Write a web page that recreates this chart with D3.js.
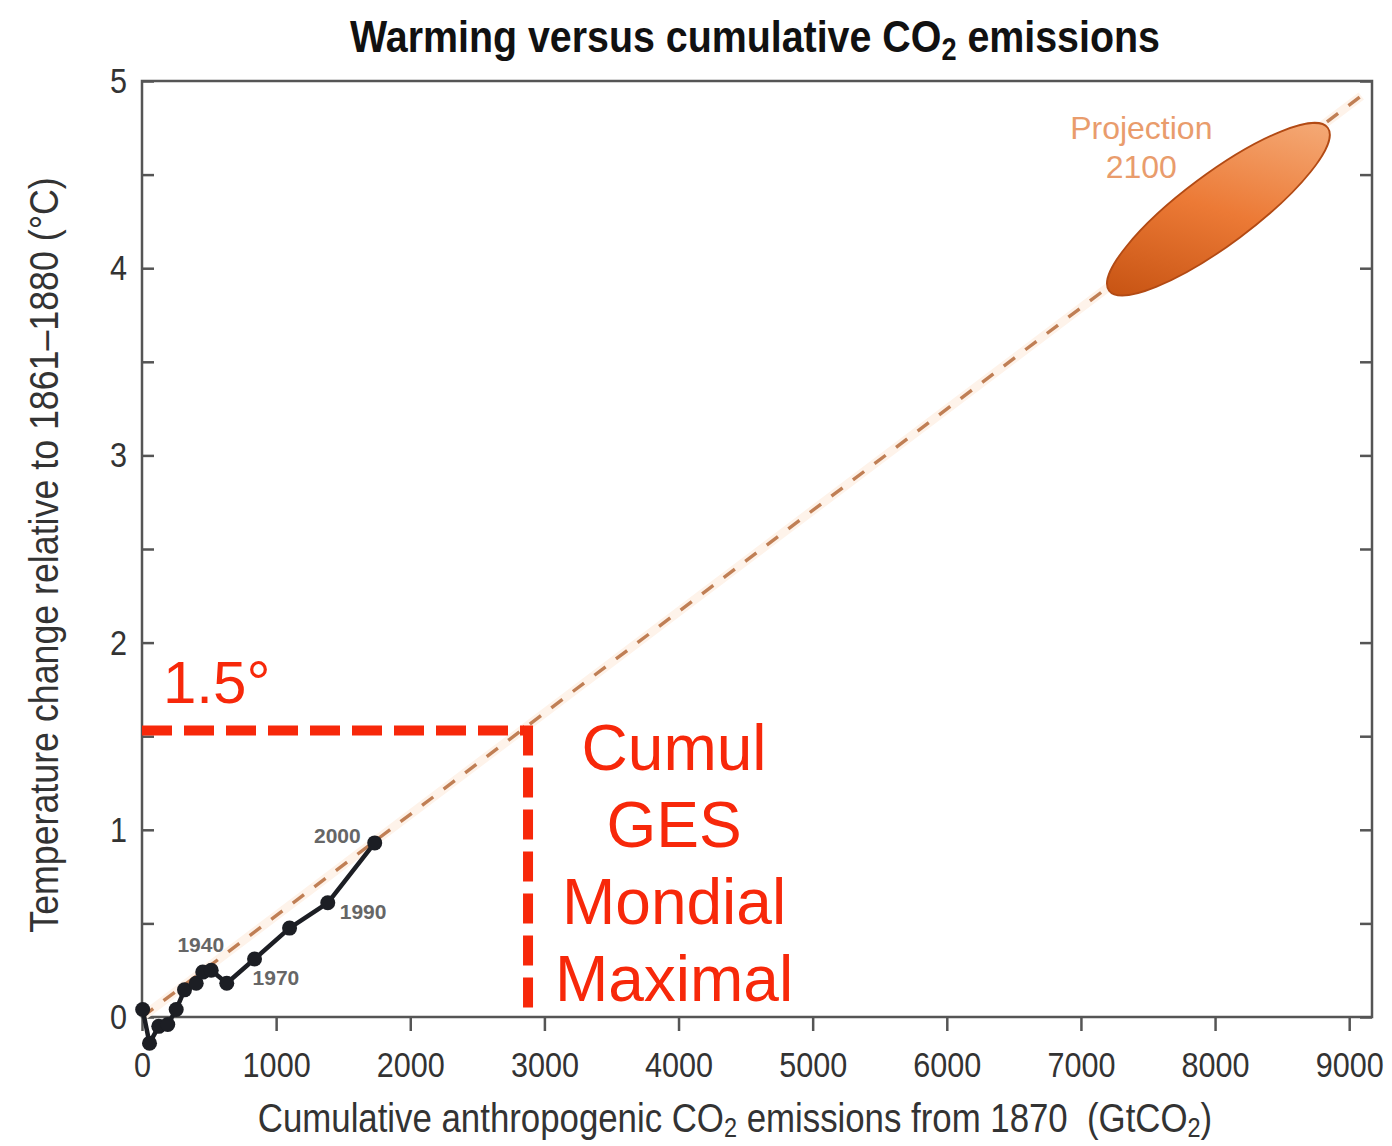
<!DOCTYPE html>
<html>
<head>
<meta charset="utf-8">
<script src="https://cdn.jsdelivr.net/npm/d3@7"></script>
<style>
  body { margin: 0; background: #fff; }
  svg text { font-family: "Liberation Sans", Arial, sans-serif; }
</style>
</head>
<body>
<div id="chart"></div>
<script>
// historical decadal means
const decades = [1870, 1880, 1890, 1900, 1910, 1920, 1930, 1940, 1950, 1960, 1970, 1980, 1990, 2000];
const cumulativeCO2 = [5, 56, 125, 192, 255, 317, 404, 453, 516, 632, 839, 1100, 1385, 1735];
const warming = [0.04, -0.14, -0.05, -0.04, 0.04, 0.145, 0.18, 0.24, 0.25, 0.18, 0.31, 0.475, 0.61, 0.93];
const labelledDecades = [1940, 1970, 1990, 2000];

// dashed trend line and 2100 projection range
const trendX = [0, 9090];
const trendY = [0, 4.92];
const projectionX = [7210, 8840];
const projectionY = [3.88, 4.75];

// the 1.5° budget annotation
const limitWarming = 1.53;
const limitCumul = 2878;
const budgetLines = ['Cumul', 'GES', 'Mondial', 'Maximal'];

const xTicks = d3.range(0, 9001, 1000);
const yTicks = d3.range(0, 5.01, 0.5);

const width = 1392, height = 1146;
const margin = { top: 81, right: 20, bottom: 129, left: 142 };
const red = '#f7280a';
const narrow = 0.85; // the source uses a condensed face

const svg = d3.select('#chart').append('svg')
  .attr('width', width)
  .attr('height', height);

const x = d3.scaleLinear().domain([0, 9170]).range([margin.left, width - margin.right]);
const y = d3.scaleLinear().domain([0, 5]).range([height - margin.bottom, margin.top]);

// title
const title = svg.append('text')
  .attr('transform', 'translate(755,52) scale(0.875,1)')
  .attr('text-anchor', 'middle')
  .attr('font-size', 45)
  .attr('font-weight', 'bold')
  .attr('fill', '#111');
title.append('tspan').text('Warming versus cumulative CO');
title.append('tspan').attr('font-size', 31).attr('dy', 8).text('2');
title.append('tspan').attr('dy', -8).text(' emissions');

// axes
const xAxis = svg.append('g')
  .attr('transform', `translate(0,${y(0)})`)
  .call(d3.axisBottom(x).tickValues(xTicks).tickSize(14).tickPadding(20).tickFormat(d3.format('d')));

const yAxis = svg.append('g')
  .attr('transform', `translate(${x.range()[0]},0)`)
  .call(d3.axisLeft(y).tickValues(yTicks).tickSize(-12).tickPadding(15)
    .tickFormat(d => Number.isInteger(d) ? d : ''));

const yAxisRight = svg.append('g')
  .attr('transform', `translate(${x.range()[1]},0)`)
  .call(d3.axisRight(y).tickValues(yTicks).tickSize(-12).tickFormat(''));

[xAxis, yAxis, yAxisRight].forEach(g => {
  g.select('.domain').remove();
  g.selectAll('line').attr('stroke', '#555').attr('stroke-width', 2.5);
  g.selectAll('text').attr('font-size', 36).attr('fill', '#333')
    .attr('font-family', '"Liberation Sans", sans-serif');
});
xAxis.selectAll('text').attr('transform', `scale(${narrow},1)`);
yAxis.selectAll('text')
  .attr('x', -15 / narrow)
  .attr('transform', `scale(${narrow},1)`);

// frame
svg.append('rect')
  .attr('x', x.range()[0]).attr('y', y(5))
  .attr('width', x.range()[1] - x.range()[0])
  .attr('height', y(0) - y(5))
  .attr('fill', 'none')
  .attr('stroke', '#555')
  .attr('stroke-width', 2.5);

// axis titles
const xTitle = svg.append('text')
  .attr('transform', 'translate(735,1132) scale(0.87,1)')
  .attr('text-anchor', 'middle')
  .attr('font-size', 40)
  .attr('fill', '#333');
xTitle.append('tspan').text('Cumulative anthropogenic CO');
xTitle.append('tspan').attr('font-size', 27).attr('dy', 5).text('2');
xTitle.append('tspan').attr('dy', -5).text(' emissions from 1870\u00a0\u00a0(GtCO');
xTitle.append('tspan').attr('font-size', 27).attr('dy', 5).text('2');
xTitle.append('tspan').attr('dy', -5).text(')');

svg.append('text')
  .attr('transform', 'translate(58,555) rotate(-90) scale(0.872,1)')
  .attr('text-anchor', 'middle')
  .attr('font-size', 41)
  .attr('fill', '#333')
  .text('Temperature change relative to 1861\u20131880 (\u00b0C)');

// dashed trend line with its pale halo
const trend = trendX.map((d, i) => [x(d), y(trendY[i])]);
svg.append('path')
  .attr('d', d3.line()(trend))
  .attr('stroke', '#fef3ea')
  .attr('stroke-width', 9)
  .attr('fill', 'none');
svg.append('path')
  .attr('d', d3.line()(trend))
  .attr('stroke', '#c07f55')
  .attr('stroke-width', 3.4)
  .attr('stroke-dasharray', '14,13')
  .attr('fill', 'none');

// projection 2100 ellipse
const p1 = [x(projectionX[0]), y(projectionY[0])];
const p2 = [x(projectionX[1]), y(projectionY[1])];
const cx = (p1[0] + p2[0]) / 2, cy = (p1[1] + p2[1]) / 2;
const semiMajor = Math.hypot(p2[0] - p1[0], p2[1] - p1[1]) / 2;
const angle = Math.atan2(p2[1] - p1[1], p2[0] - p1[0]) * 180 / Math.PI;

const grad = svg.append('defs').append('linearGradient')
  .attr('id', 'projGrad')
  .attr('gradientUnits', 'userSpaceOnUse')
  .attr('x1', p1[0]).attr('y1', p1[1])
  .attr('x2', p2[0]).attr('y2', p2[1]);
grad.append('stop').attr('offset', '0%').attr('stop-color', '#c04c0c');
grad.append('stop').attr('offset', '50%').attr('stop-color', '#ec7a36');
grad.append('stop').attr('offset', '100%').attr('stop-color', '#f6b383');

svg.append('ellipse')
  .attr('cx', cx).attr('cy', cy)
  .attr('rx', semiMajor).attr('ry', semiMajor * 0.26)
  .attr('transform', `rotate(${angle},${cx},${cy})`)
  .attr('fill', 'url(#projGrad)')
  .attr('stroke', '#b24a14')
  .attr('stroke-width', 1.8);

svg.append('text')
  .attr('x', x(7450)).attr('y', y(4.69))
  .attr('text-anchor', 'middle')
  .attr('font-size', 32)
  .attr('fill', '#e99c6c')
  .selectAll('tspan')
  .data(['Projection', '2100'])
  .join('tspan')
  .attr('x', x(7450))
  .attr('dy', (d, i) => i ? 39 : 0)
  .text(d => d);

// historical series
const points = decades.map((d, i) => ({ decade: d, x: x(cumulativeCO2[i]), y: y(warming[i]) }));
svg.append('path')
  .attr('d', d3.line().x(d => d.x).y(d => d.y)(points))
  .attr('stroke', '#1c1e24')
  .attr('stroke-width', 4.5)
  .attr('stroke-linejoin', 'round')
  .attr('fill', 'none');
svg.selectAll('.pt')
  .data(points)
  .join('circle')
  .attr('class', 'pt')
  .attr('cx', d => d.x).attr('cy', d => d.y)
  .attr('r', 7.5)
  .attr('fill', '#1c1e24');

const labelPlace = {
  1940: { dx: -2, dy: -20, anchor: 'middle' },
  1970: { dx: -2, dy: 26, anchor: 'start' },
  1990: { dx: 12, dy: 16, anchor: 'start' },
  2000: { dx: -14, dy: 0, anchor: 'end' }
};
svg.selectAll('.decade')
  .data(points.filter(d => labelledDecades.includes(d.decade)))
  .join('text')
  .attr('class', 'decade')
  .attr('x', d => d.x + labelPlace[d.decade].dx)
  .attr('y', d => d.y + labelPlace[d.decade].dy)
  .attr('text-anchor', d => labelPlace[d.decade].anchor)
  .attr('font-size', 21)
  .attr('font-weight', 'bold')
  .attr('fill', '#666')
  .text(d => d.decade);

// red 1.5° budget lines
svg.append('line')
  .attr('x1', x(0)).attr('x2', x(limitCumul) - 4)
  .attr('y1', y(limitWarming)).attr('y2', y(limitWarming))
  .attr('stroke', red).attr('stroke-width', 10)
  .attr('stroke-dasharray', '30,12');
svg.append('line')
  .attr('x1', x(limitCumul)).attr('x2', x(limitCumul))
  .attr('y1', y(limitWarming) - 5).attr('y2', y(0))
  .attr('stroke', red).attr('stroke-width', 10)
  .attr('stroke-dasharray', '30,12');

svg.append('text')
  .attr('x', x(0) + 21).attr('y', y(limitWarming) - 28)
  .attr('font-size', 60)
  .attr('fill', red)
  .text('1.5\u00b0');

svg.append('g')
  .selectAll('text')
  .data(budgetLines)
  .join('text')
  .attr('x', x(limitCumul) + 146)
  .attr('y', (d, i) => y(limitWarming) + 39 + i * 77)
  .attr('text-anchor', 'middle')
  .attr('font-size', 64)
  .attr('fill', red)
  .text(d => d);
</script>
</body>
</html>
